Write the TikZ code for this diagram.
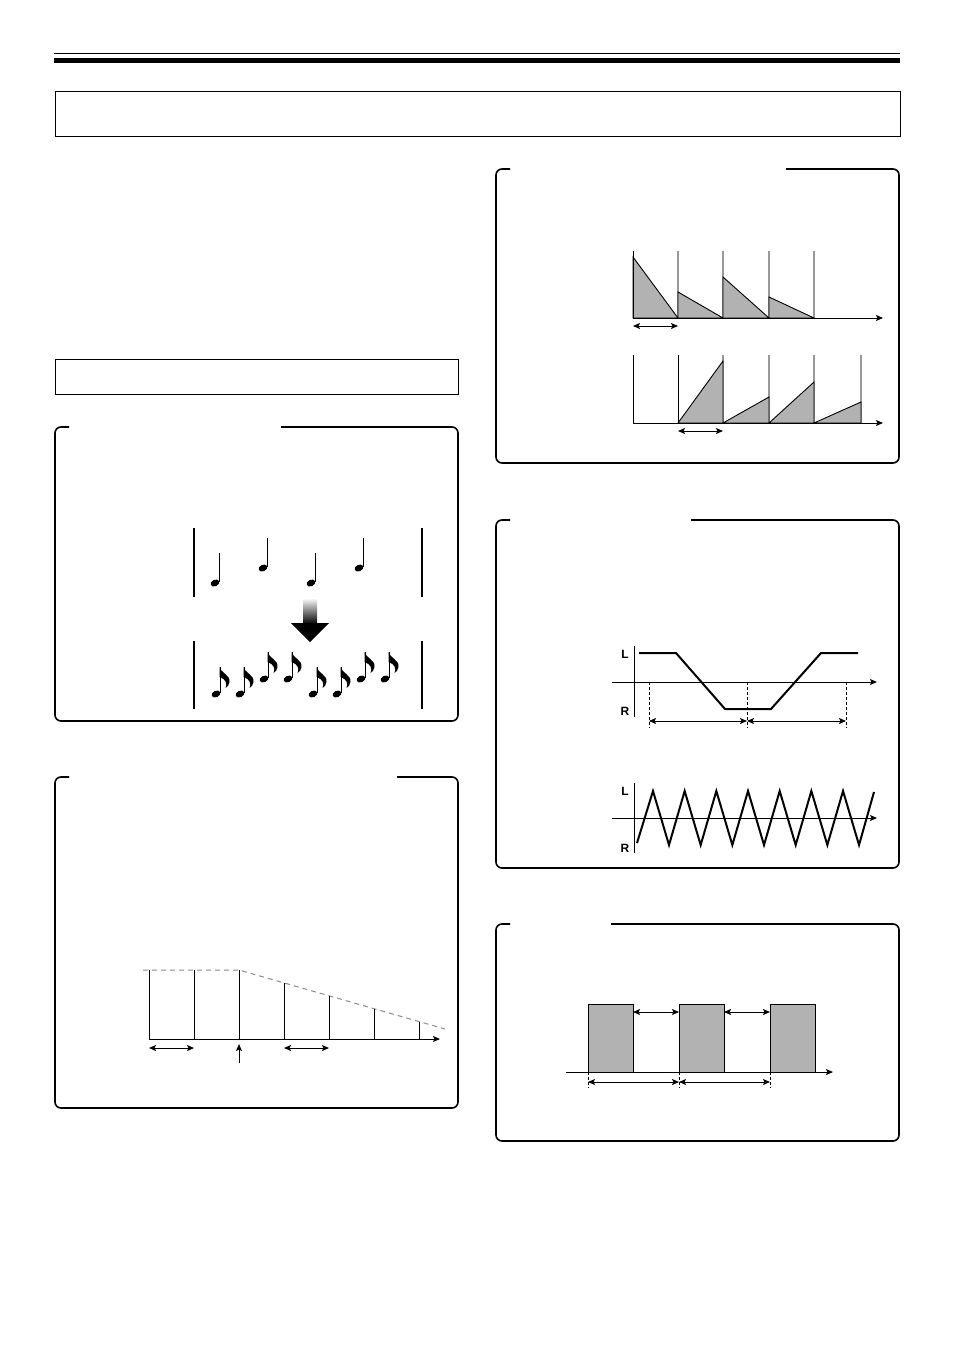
\documentclass[tikz,border=0pt]{standalone}
\usepackage{fontspec}
\setsansfont{Liberation Sans}
\usetikzlibrary{arrows.meta}

\tikzset{
  panel/.style={line width=1.6pt, rounded corners=6pt},
  tip/.style={-{Stealth[length=7pt,width=6pt,inset=1.5pt]}, line width=1pt},
  dbl/.style={{Stealth[length=7pt,width=6pt,inset=1.5pt]}-{Stealth[length=7pt,width=6pt,inset=1.5pt]}, line width=1pt},
  shaded/.style={fill=black!30, draw=black, line width=0.9pt},
  guide/.style={draw=black!40, line width=1.4pt},
  marker/.style={dashed, dash pattern=on 3pt off 2pt, line width=0.8pt},
  lr/.style={font=\sffamily\bfseries\fontsize{12}{12}\selectfont, inner sep=0pt},
}
\newcommand{\panelbox}[5]{\draw[panel] (#1+14,#2) -- (#1,#2) -- (#1,#4) -- (#3,#4) -- (#3,#2) -- (#5,#2);}
\newcommand{\crotchet}[2]{%
  \fill[rotate around={25:(#1,#2)}] (#1,#2) ellipse (4.6 and 3.2);
  \draw[line width=1.2pt] (#1+4.1,#2-1.5) -- (#1+4.1,#2-30);}
\newcommand{\quaver}[2]{%
  \fill[rotate around={25:(#1,#2)}] (#1,#2) ellipse (4.6 and 3.2);
  \draw[line width=1.2pt] (#1+4.1,#2-1.5) -- (#1+4.1,#2-27);
  \fill (#1+3.5,#2-27) .. controls (#1+5,#2-21) and (#1+14.5,#2-19) .. (#1+13.5,#2-12)
    .. controls (#1+13,#2-9) and (#1+11.5,#2-7) .. (#1+9.5,#2-6)
    .. controls (#1+11.5,#2-10) and (#1+10,#2-15) .. (#1+3.5,#2-17) -- cycle;}

\begin{document}
\begin{tikzpicture}[x=1pt,y=-1pt]
  \useasboundingbox (0,0) rectangle (954,1350);
  % header
  \draw[line width=1pt] (54,53) -- (900,53);
  \fill (54,58) rectangle (900,62.5);
  \draw[line width=1pt] (55,91) rectangle (900,136);
  \draw[line width=1pt] (55,359) rectangle (458,394);
  % panels
  \panelbox{55}{427}{458}{721}{281}
  \panelbox{55}{777}{458}{1108}{397}
  \panelbox{496}{169}{899}{463}{786}
  \panelbox{496}{520}{899}{868}{691}
  \panelbox{496}{924}{899}{1141}{611}

  % notes
  \foreach \x in {194,422} {
    \draw[line width=1.3pt] (\x,528) -- (\x,597);
    \draw[line width=1.3pt] (\x,641) -- (\x,709);
  }
  \crotchet{215}{583}
  \crotchet{263}{568}
  \crotchet{311}{583}
  \crotchet{359}{568}
  \shade[top color=white, bottom color=black] (303,598) rectangle (317,624);
  \fill (291,623) -- (329,623) -- (310,642) -- cycle;
  \foreach \x/\y in {216/694, 240/694, 264/679, 288/679, 313/694, 337/694, 361/679, 385/679} {
    \quaver{\x}{\y}
  }

  % decay
  \draw[dashed, dash pattern=on 5pt off 4pt, draw=black!45, line width=1pt] (143,970) -- (239,970) coordinate (knee) -- (445,1029);
  \foreach \x/\h in {149/970, 194/970, 239/970, 284/983, 329/996, 374/1009, 419/1022}
    \draw[line width=1pt] (\x,1039) -- (\x,\h);
  \draw[tip] (149,1039) coordinate (o1) -- (440,1039);
  \draw[dbl] (149,1048) -- (194,1048);
  \draw[dbl] (284,1048) -- (329,1048);
  \draw[tip] (239,1063) -- (239,1044);

  % slicer upper
  \foreach \x in {678,723,769,814} \draw[guide] (\x,251) -- (\x,318);
  \filldraw[shaded] (633,318) -- (633,257) -- (678,318) -- cycle;
  \filldraw[shaded] (678,318) -- (678,292) -- (723,318) -- cycle;
  \filldraw[shaded] (723,318) -- (723,277) -- (769,318) -- cycle;
  \filldraw[shaded] (769,318) -- (769,297) -- (814,318) -- cycle;
  \draw[line width=1pt] (633,251) -- (633,318) coordinate (o2);
  \draw[tip] (o2) -- (883,318);
  \draw[dbl] (633,326) -- (678,326);
  % slicer lower
  \foreach \x in {723,769,814,861} \draw[guide] (\x,355) -- (\x,423);
  \filldraw[shaded] (678,423) -- (723,361) -- (723,423) -- cycle;
  \filldraw[shaded] (723,423) -- (769,397) -- (769,423) -- cycle;
  \filldraw[shaded] (769,423) -- (814,382) -- (814,423) -- cycle;
  \filldraw[shaded] (814,423) -- (861,402) -- (861,423) -- cycle;
  \draw[line width=1pt] (678,355) -- (678,423);
  \draw[line width=1pt] (633,355) -- (633,423) coordinate (o3);
  \draw[tip] (o3) -- (883,423);
  \draw[dbl] (678,431) -- (723,431);

  % pan upper
  \draw[line width=1pt] (634,646) -- (634,717);
  \draw[tip] (612,682) -- (877,682);
  \node[lr] (l1) at (625,654) {L};
  \node[lr] (r1) at (625,711) {R};
  \draw[line width=2pt] (639,653) -- (676,653) -- (725,709) -- (771,709) -- (821,653) -- (858,653);
  \foreach \x in {649,747,846} \draw[marker] (\x,682) -- (\x,728);
  \draw[dbl] (649,721) -- (747,721);
  \draw[dbl] (747,721) -- (846,721);
  % pan lower
  \draw[line width=1pt] (634,783) -- (634,853);
  \draw[tip] (612,818) -- (877,818);
  \node[lr] (l2) at (625,791) {L};
  \node[lr] (r2) at (625,848) {R};
  \draw[line width=2pt, line join=miter] (637,843)
    \foreach \k in {0,...,6} { -- ({653+31.67*\k},791) -- ({669+31.67*\k},845) } -- (874,792);

  % gate
  \foreach \x in {588,679,770} {
    \filldraw[shaded] (\x,1004) rectangle (\x+45,1072);
    \draw[marker] (\x,1072) -- (\x,1088);
  }
  \draw[tip] (566,1072) -- (833,1072);
  \draw[dbl] (633,1012) -- (679,1012);
  \draw[dbl] (724,1012) -- (770,1012);
  \draw[dbl] (588,1082) -- (679,1082);
  \draw[dbl] (679,1082) -- (770,1082);
\end{tikzpicture}
\end{document}
